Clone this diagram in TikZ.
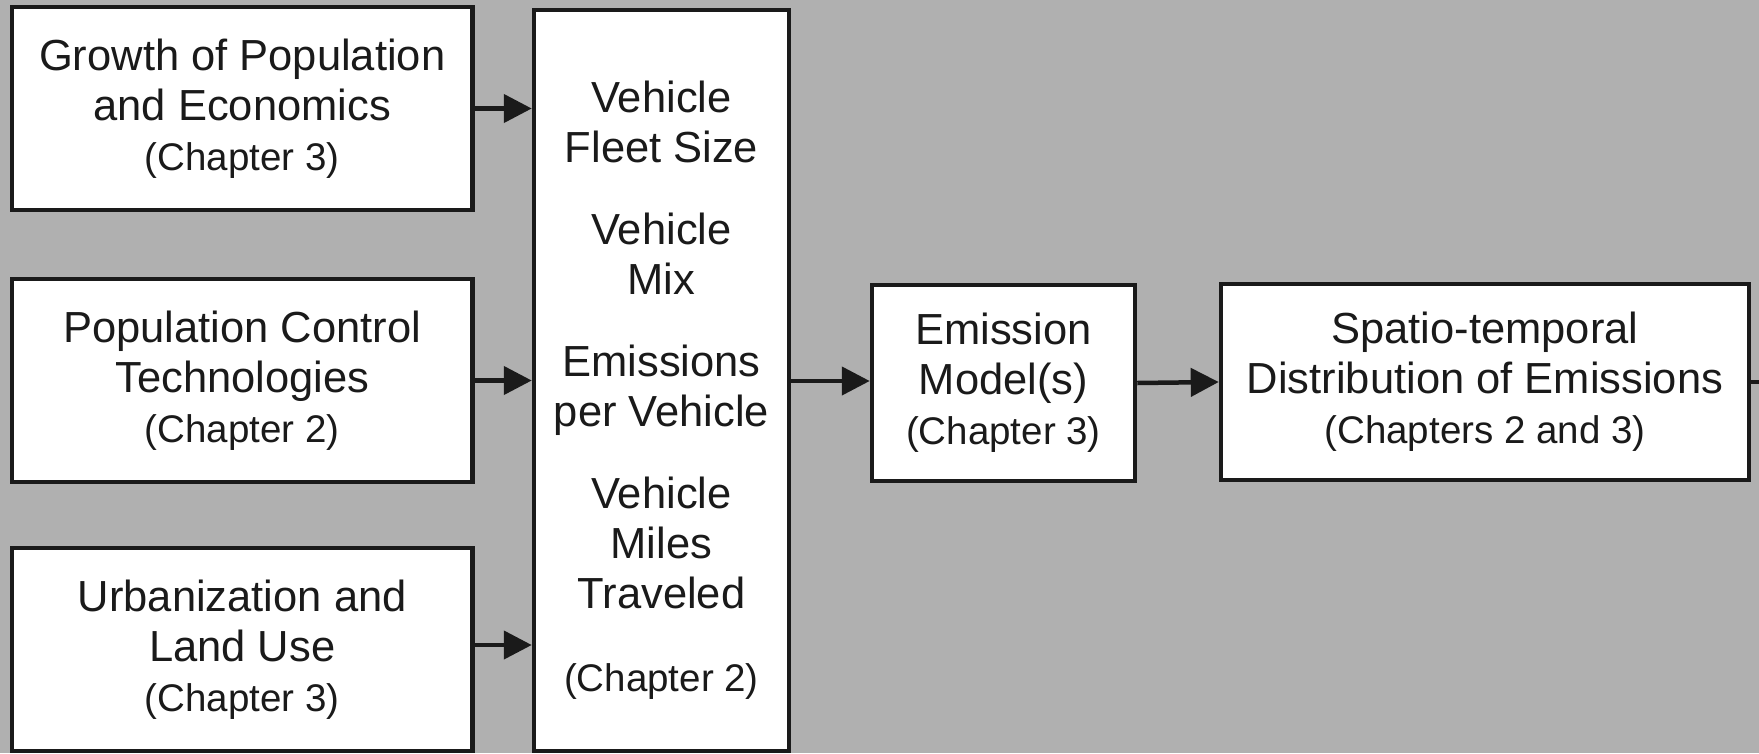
\documentclass[tikz,border=0pt]{standalone}
\usepackage{fontspec}
\setmainfont{Liberation Sans}
\usetikzlibrary{arrows.meta}
\definecolor{bg}{RGB}{176,176,176}
\definecolor{ink}{RGB}{26,26,26}
% smaller type for the chapter references
\newcommand\chapline[1]{{\fontsize{38.5}{50}\selectfont #1}}
\begin{document}
\begin{tikzpicture}[x=1pt,y=-1pt,
  box/.style={draw=ink, line width=4.5pt, fill=white, text=ink,
    align=center, inner sep=0pt,
    font=\fontsize{43.5}{50}\selectfont},
  srcbox/.style={box, minimum width=460.5pt, minimum height=203pt},
  arr/.style={draw=ink, line width=4.5pt,
    -{Triangle[length=28pt,width=28pt]}}]

% page background
\fill[bg] (0,0) rectangle (1759,753);
\useasboundingbox (0,0) rectangle (1759,753);

% driving factors
\node[srcbox] (growth) at (242.25,108.5)
  {Growth of Population\\and Economics\\\chapline{(Chapter 3)}};
\node[srcbox] (popctl) at (242.25,380.5)
  {Population Control\\Technologies\\\chapline{(Chapter 2)}};
\node[srcbox] (urban) at (242.25,649.5)
  {Urbanization and\\Land Use\\\chapline{(Chapter 3)}};

% vehicle activity quantities (the strut lowers the whole column a little)
\node[box, minimum width=255pt, minimum height=741pt] (veh) at (661.5,380.5)
  {\rule{0pt}{50pt}Vehicle\\Fleet Size\\[32pt]Vehicle\\Mix\\[32pt]Emissions\\per Vehicle\\[32pt]%
   Vehicle\\Miles\\Traveled\\[33pt]\chapline{(Chapter 2)}};

% modelling chain
\node[box, minimum width=263pt, minimum height=196pt] (emis) at (1003.5,383)
  {Emission\\Model(s)\\\chapline{(Chapter 3)}};
\node[box, minimum width=528pt, minimum height=196pt] (spat) at (1485,382)
  {Spatio-temporal\\Distribution of Emissions\\\chapline{(Chapters 2 and 3)}};
\coordinate (out) at (1759,382);

% connectors
\draw[arr] (growth.east) -- (growth.east -| veh.west);
\draw[arr] (popctl.east) -- (popctl.east -| veh.west);
\draw[arr] ([yshift=4.5pt]urban.east) -- ([yshift=4.5pt]urban.east -| veh.west);
\draw[arr] ([yshift=2pt]emis.west -| veh.east) -- ([yshift=2pt]emis.west);
\draw[arr] (emis.east) -- (spat.west);
\draw[draw=ink, line width=4.5pt] (spat.east) -- (out);
\end{tikzpicture}
\end{document}
